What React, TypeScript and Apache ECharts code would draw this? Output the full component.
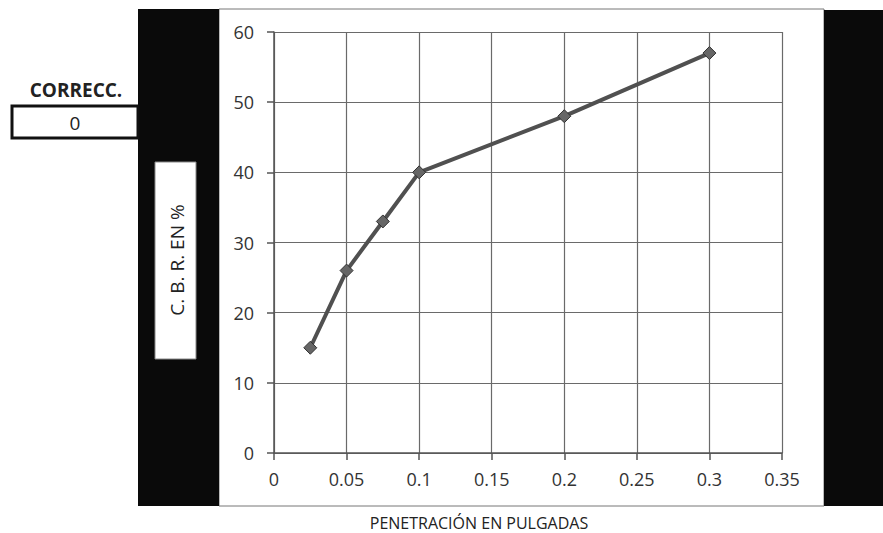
import React, { useEffect, useRef } from "react";
import * as echarts from "echarts";

const penetration = [0.025, 0.05, 0.075, 0.1, 0.2, 0.3];
const cbrValues = [15, 26, 33, 40, 48, 57];
const xTicks = [0, 0.05, 0.1, 0.15, 0.2, 0.25, 0.3, 0.35];
const yTicks = [0, 10, 20, 30, 40, 50, 60];
const xTitle = "PENETRACIÓN EN PULGADAS";
const yTitle = "C. B. R. EN %";
const correctionLabel = "CORRECC.";
const correctionValue = "0";

export default function App() {
  const ref = useRef<HTMLDivElement>(null);
  useEffect(() => {
    if (!ref.current) return;
    const chart = echarts.init(ref.current, null, { renderer: "svg" });
    const font = "Open Sans";
    chart.setOption({
      animation: false,
      backgroundColor: "#ffffff",
      textStyle: { fontFamily: font },
      grid: { left: 274, right: 101, top: 32, bottom: 80 },
      xAxis: {
        type: "value",
        min: xTicks[0],
        max: xTicks[xTicks.length - 1],
        interval: 0.05,
        axisLine: { show: true, lineStyle: { color: "#555", width: 1.5 } },
        axisTick: { show: true, length: 7, lineStyle: { color: "#555", width: 1.5 } },
        axisLabel: { color: "#333", fontSize: 18, margin: 17, fontFamily: font },
        splitLine: { show: true, lineStyle: { color: "#6a6a6a", width: 1.2 } },
      },
      yAxis: {
        type: "value",
        min: yTicks[0],
        max: yTicks[yTicks.length - 1],
        interval: 10,
        axisLine: { show: true, lineStyle: { color: "#555", width: 1.5 } },
        axisTick: { show: true, length: 7, lineStyle: { color: "#555", width: 1.5 } },
        axisLabel: { color: "#333", fontSize: 18, margin: 20, fontFamily: font },
        splitLine: { show: true, lineStyle: { color: "#6a6a6a", width: 1.2 } },
      },
      graphic: [
        { type: "rect", z: -10, shape: { x: 219, y: 9, width: 605, height: 497 }, style: { fill: "#fff", stroke: "#777", lineWidth: 1 } },
        { type: "rect", z: -5, shape: { x: 138, y: 9, width: 81, height: 497 }, style: { fill: "#0a0a0a" } },
        { type: "rect", z: -5, shape: { x: 824, y: 10, width: 59, height: 496 }, style: { fill: "#0a0a0a" } },
        { type: "rect", z: 5, shape: { x: 155, y: 162, width: 41, height: 197 }, style: { fill: "#fff", stroke: "#888", lineWidth: 1 } },
        {
          type: "text",
          z: 6,
          x: 177,
          y: 260,
          rotation: Math.PI / 2,
          style: { text: yTitle, fontSize: 19, fill: "#222", fontFamily: font, align: "center", verticalAlign: "middle" },
        },
        {
          type: "text",
          x: 76,
          y: 90,
          style: { text: correctionLabel, fontSize: 19, fontWeight: "bold", fill: "#222", fontFamily: font, align: "center", verticalAlign: "middle" },
        },
        { type: "rect", shape: { x: 12, y: 106, width: 126, height: 32 }, style: { fill: "#fff", stroke: "#111", lineWidth: 3 } },
        {
          type: "text",
          x: 75,
          y: 123,
          style: { text: correctionValue, fontSize: 19, fill: "#222", fontFamily: font, align: "center", verticalAlign: "middle" },
        },
        {
          type: "text",
          x: 479,
          y: 523,
          style: { text: xTitle, fontSize: 16, fill: "#222", fontFamily: font, align: "center", verticalAlign: "middle" },
        },
      ],
      series: [
        {
          type: "line",
          data: penetration.map((p, i) => [p, cbrValues[i]]),
          symbol: "diamond",
          symbolSize: 13,
          lineStyle: { color: "#505050", width: 4 },
          itemStyle: { color: "#666", borderColor: "#333", borderWidth: 1 },
          z: 10,
        },
      ],
    });
    return () => chart.dispose();
  }, []);
  return <div ref={ref} style={{ width: 883, height: 533, position: "absolute", left: 0, top: 0 }} />;
}
